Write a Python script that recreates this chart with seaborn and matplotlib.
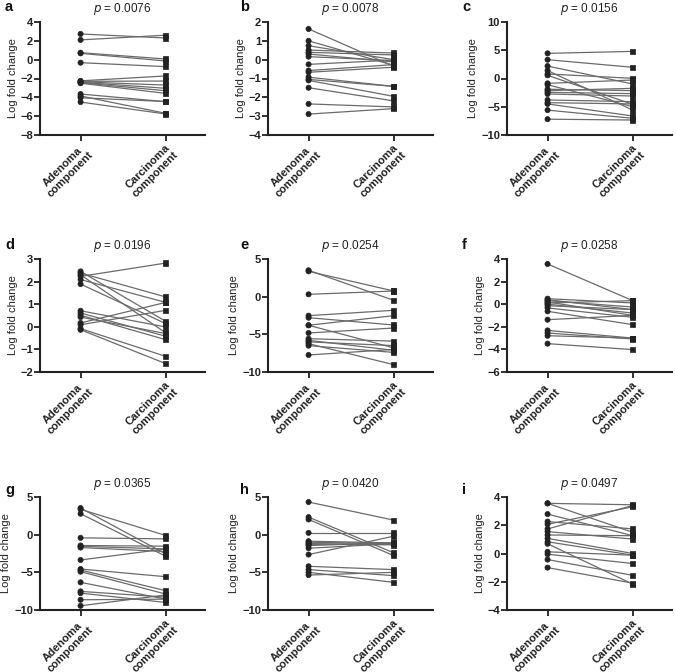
import numpy as np
import pandas as pd
import matplotlib
matplotlib.use("Agg")
import matplotlib.pyplot as plt
import seaborn as sns

# Panel data: log fold change, adenoma vs carcinoma component (paired by index)
a_aden = [2.73, 2.1, 0.74, 0.67, -0.32, -2.25, -2.3, -2.35, -2.4, -2.45, -2.5, -3.65, -3.86, -4.04, -4.5]
a_carc = [2.3, 2.6, 0.07, -0.14, -0.74, -1.73, -2.27, -2.7, -3.04, -3.3, -3.58, -4.46, -5.7, -4.45, -5.77]
b_aden = [1.63, 1.0, 0.74, 0.51, 0.39, 0.3, 0.16, -0.25, -0.58, -0.67, -0.93, -1.05, -1.1, -1.49, -2.35, -2.89]
b_carc = [-0.35, -0.3, 0.0, 0.35, 0.25, -0.12, -0.05, -0.02, -0.26, -0.4, -1.42, -1.42, -1.95, -2.19, -2.51, -2.6]
c_aden = [4.45, 3.33, 2.2, 1.4, 0.8, 0.56, -0.86, -1.1, -1.9, -2.15, -2.45, -2.74, -3.8, -4.28, -4.5, -5.6, -7.2]
c_carc = [4.8, 1.98, -0.97, -5.6, 0.03, -4.57, -0.27, -4.99, -2.15, -1.74, -2.68, -3.1, -4.1, -4.5, -6.64, -7.05, -7.35]
d_aden = [2.45, 2.38, 2.3, 2.23, 2.09, 1.89, 0.71, 0.61, 0.51, 0.43, 0.17, 0.09, -0.08, -0.13]
d_carc = [0.24, 1.32, -0.27, 2.82, 1.08, 0.14, -0.01, -0.42, -0.57, -0.3, 1.08, 0.73, -1.31, -1.63]
e_aden = [3.5, 3.36, 0.31, -2.52, -2.79, -3.8, -3.8, -4.82, -5.58, -5.8, -6.0, -6.24, -6.5, -7.74]
e_carc = [-0.49, 0.75, 0.75, -1.81, -3.76, -2.52, -6.8, -4.16, -5.9, -7.12, -6.5, -9.03, -7.4, -7.0]
f_aden = [3.56, 0.49, 0.4, 0.31, 0.2, 0.11, 0.0, -0.13, -0.33, -0.63, -1.37, -2.32, -2.55, -2.79, -3.49]
f_carc = [0.31, 0.11, -0.48, -0.25, -0.99, 0.31, -0.78, -0.48, -1.16, -1.81, -0.99, -3.0, -3.08, -3.0, -4.02]
g_aden = [3.53, 3.36, 2.78, -0.42, -1.44, -1.55, -1.71, -3.36, -4.56, -4.7, -4.91, -6.33, -7.53, -7.76, -8.64, -9.44]
g_carc = [-2.56, -0.11, -2.87, -0.56, -1.53, -1.89, -2.24, -1.89, -5.58, -7.44, -7.89, -8.56, -8.3, -9.0, -8.56, -8.0]
h_aden = [4.33, 2.33, 2.02, 0.24, -0.87, -1.0, -1.18, -1.3, -1.44, -1.8, -2.64, -4.2, -4.64, -5.0, -5.36]
h_carc = [1.93, -2.42, -2.78, 0.24, -1.09, -1.2, -1.36, -1.2, -1.09, -1.2, -0.2, -4.64, -5.44, -6.33, -5.0]
i_aden = [3.55, 3.55, 2.79, 2.26, 2.07, 1.74, 1.55, 1.31, 1.07, 0.83, 0.69, 0.12, -0.05, -0.43, -1.0]
i_carc = [3.45, 1.5, 1.26, 1.74, 3.31, 3.4, 1.02, 1.26, 0.0, -0.12, -2.17, -0.12, -0.71, -1.55, -2.1]

letters = ['a', 'b', 'c', 'd', 'e', 'f', 'g', 'h', 'i']
p_values = ['0.0076', '0.0078', '0.0156', '0.0196', '0.0254', '0.0258', '0.0365', '0.0420', '0.0497']
y_limits = [(-8, 4), (-4, 2), (-10, 10), (-2, 3), (-10, 5), (-6, 4), (-10, 5), (-10, 5), (-4, 4)]
y_steps = [2, 1, 5, 1, 5, 2, 5, 5, 2]
groups = ['Adenoma\ncomponent', 'Carcinoma\ncomponent']

panels = [(a_aden, a_carc), (b_aden, b_carc), (c_aden, c_carc),
          (d_aden, d_carc), (e_aden, e_carc), (f_aden, f_carc),
          (g_aden, g_carc), (h_aden, h_carc), (i_aden, i_carc)]

# Layout in pixels
W, H = 676, 672
COL_LEFT = [40, 268, 507]
ROW_TOP = [22, 259, 497]
AX_W, AX_H = 165, 113
LETTER_X = [5, 240, 462]
LETTER_Y = [7, 245, 490]
FS = 8

sns.set_style("ticks")
plt.rcParams['font.family'] = ['Liberation Sans', 'DejaVu Sans']

fig = plt.figure(figsize=(W / 100, H / 100), dpi=100)

for k, (aden, carc) in enumerate(panels):
    r, c = divmod(k, 3)
    ax = fig.add_axes([COL_LEFT[c] / W, 1 - (ROW_TOP[r] + AX_H) / H, AX_W / W, AX_H / H])

    n = len(aden)
    df = pd.DataFrame({
        'pair': list(range(n)) * 2,
        'pos': [0] * n + [1] * n,
        'group': ['Adenoma'] * n + ['Carcinoma'] * n,
        'value': list(aden) + list(carc),
    })

    sns.lineplot(data=df, x='pos', y='value', units='pair', estimator=None,
                 color='#6b6b6b', linewidth=0.9, ax=ax, legend=False)
    sns.scatterplot(data=df, x='pos', y='value', style='group',
                    markers={'Adenoma': 'o', 'Carcinoma': 's'},
                    color='#222222', edgecolor='#222222', s=14, linewidth=0.5,
                    ax=ax, legend=False, zorder=3)

    ax.set_xlim(-0.476, 1.46)
    ax.set_ylim(*y_limits[k])
    ax.set_yticks(np.arange(y_limits[k][0], y_limits[k][1] + 0.01, y_steps[k]))
    ax.set_xticks([0, 1])
    ax.set_xticklabels(groups, rotation=45, ha='right', rotation_mode='anchor',
                       multialignment='center', fontsize=FS, fontweight='bold',
                       color='#222222', linespacing=1.0)
    for lab in ax.get_yticklabels():
        lab.set_fontweight('bold')
    ax.tick_params(axis='y', labelsize=FS, length=4, width=1.3, colors='#222222', pad=1)
    ax.tick_params(axis='x', length=4, width=1.3, colors='#222222', pad=1)
    ax.set_xlabel('')
    ax.set_ylabel('Log fold change', fontsize=FS, color='#222222', labelpad=2)
    sns.despine(ax=ax)
    for side in ['left', 'bottom']:
        ax.spines[side].set_linewidth(1.5)
        ax.spines[side].set_color('#222222')

    ax.set_title(f'$p$ = {p_values[k]}', fontsize=8.5, color='#222222', pad=7)
    fig.text(LETTER_X[c] / W, 1 - LETTER_Y[r] / H, letters[k], fontsize=10.5,
             fontweight='bold', va='center', ha='left', color='#111111')

fig.savefig('out.png', dpi=100)
